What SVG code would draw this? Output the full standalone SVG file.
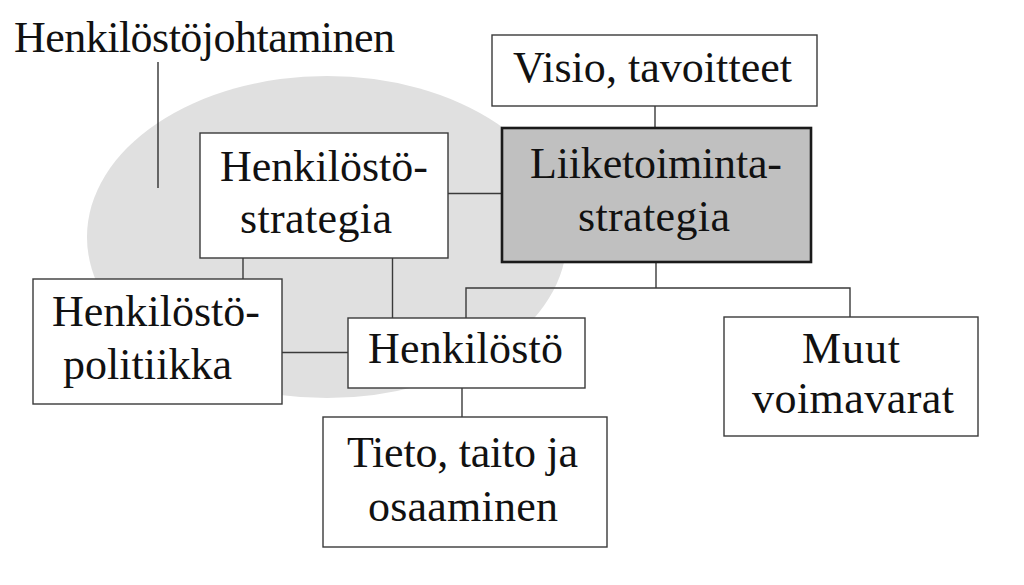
<svg xmlns="http://www.w3.org/2000/svg" width="1024" height="585" viewBox="0 0 1024 585">
  <style>
    .box { fill: #ffffff; stroke: #3a3a3a; stroke-width: 1.4; }
    .main { fill: #c0c0c0; stroke: #1a1a1a; stroke-width: 2.6; }
    .lbl { font-family: "Liberation Serif", "Times New Roman", serif; font-size: 44px; fill: #111111; }
    .conn { fill: none; stroke: #3a3a3a; stroke-width: 1.4; }
  </style>
  <rect x="0" y="0" width="1024" height="585" fill="#ffffff"/>
  <g id="henkilostojohtaminen">
    <ellipse cx="327" cy="237" rx="240" ry="161" fill="#e0e0e0"/>
    <text class="lbl" x="14" y="52" font-size="40" textLength="381" lengthAdjust="spacing">Henkilöstöjohtaminen</text>
    <line x1="158" y1="62" x2="158" y2="188" stroke="#222222" stroke-width="1.3"/>
  </g>
  <g id="connectors">
    <path class="conn" d="M655 106 V128"/>
    <path class="conn" d="M448 193.5 H502"/>
    <path class="conn" d="M243 258 V279"/>
    <path class="conn" d="M392.5 258 V318"/>
    <path class="conn" d="M656 262 V288"/>
    <path class="conn" d="M466 318 V288 H850 V317"/>
    <path class="conn" d="M282 352.5 H348"/>
    <path class="conn" d="M462 388 V417"/>
  </g>
  <g id="visio">
    <rect class="box" x="492" y="35" width="325" height="71"/>
    <text class="lbl" x="513" y="82" textLength="279" lengthAdjust="spacing">Visio, tavoitteet</text>
  </g>
  <g id="liiketoimintastrategia">
    <rect class="main" x="502" y="128" width="309" height="134"/>
    <text class="lbl" x="530" y="178" textLength="252" lengthAdjust="spacing">Liiketoiminta-</text>
    <text class="lbl" x="578" y="231" textLength="152" lengthAdjust="spacing">strategia</text>
  </g>
  <g id="henkilostostrategia">
    <rect class="box" x="200" y="133" width="248" height="125"/>
    <text class="lbl" x="220" y="181" textLength="208" lengthAdjust="spacing">Henkilöstö-</text>
    <text class="lbl" x="240" y="233" textLength="152" lengthAdjust="spacing">strategia</text>
  </g>
  <g id="henkilostopolitiikka">
    <rect class="box" x="33" y="279" width="249" height="125"/>
    <text class="lbl" x="52" y="326" textLength="208" lengthAdjust="spacing">Henkilöstö-</text>
    <text class="lbl" x="63" y="379" textLength="169" lengthAdjust="spacing">politiikka</text>
  </g>
  <g id="henkilosto">
    <rect class="box" x="348" y="318" width="237" height="70"/>
    <text class="lbl" x="368" y="363" textLength="195" lengthAdjust="spacing">Henkilöstö</text>
  </g>
  <g id="tieto">
    <rect class="box" x="323" y="417" width="284" height="130"/>
    <text class="lbl" x="347" y="467" textLength="231" lengthAdjust="spacing">Tieto, taito ja</text>
    <text class="lbl" x="368" y="521" textLength="190" lengthAdjust="spacing">osaaminen</text>
  </g>
  <g id="muut">
    <rect class="box" x="724" y="317" width="254" height="119"/>
    <text class="lbl" x="802" y="363" textLength="98" lengthAdjust="spacing">Muut</text>
    <text class="lbl" x="752" y="413" textLength="202" lengthAdjust="spacing">voimavarat</text>
  </g>
</svg>
